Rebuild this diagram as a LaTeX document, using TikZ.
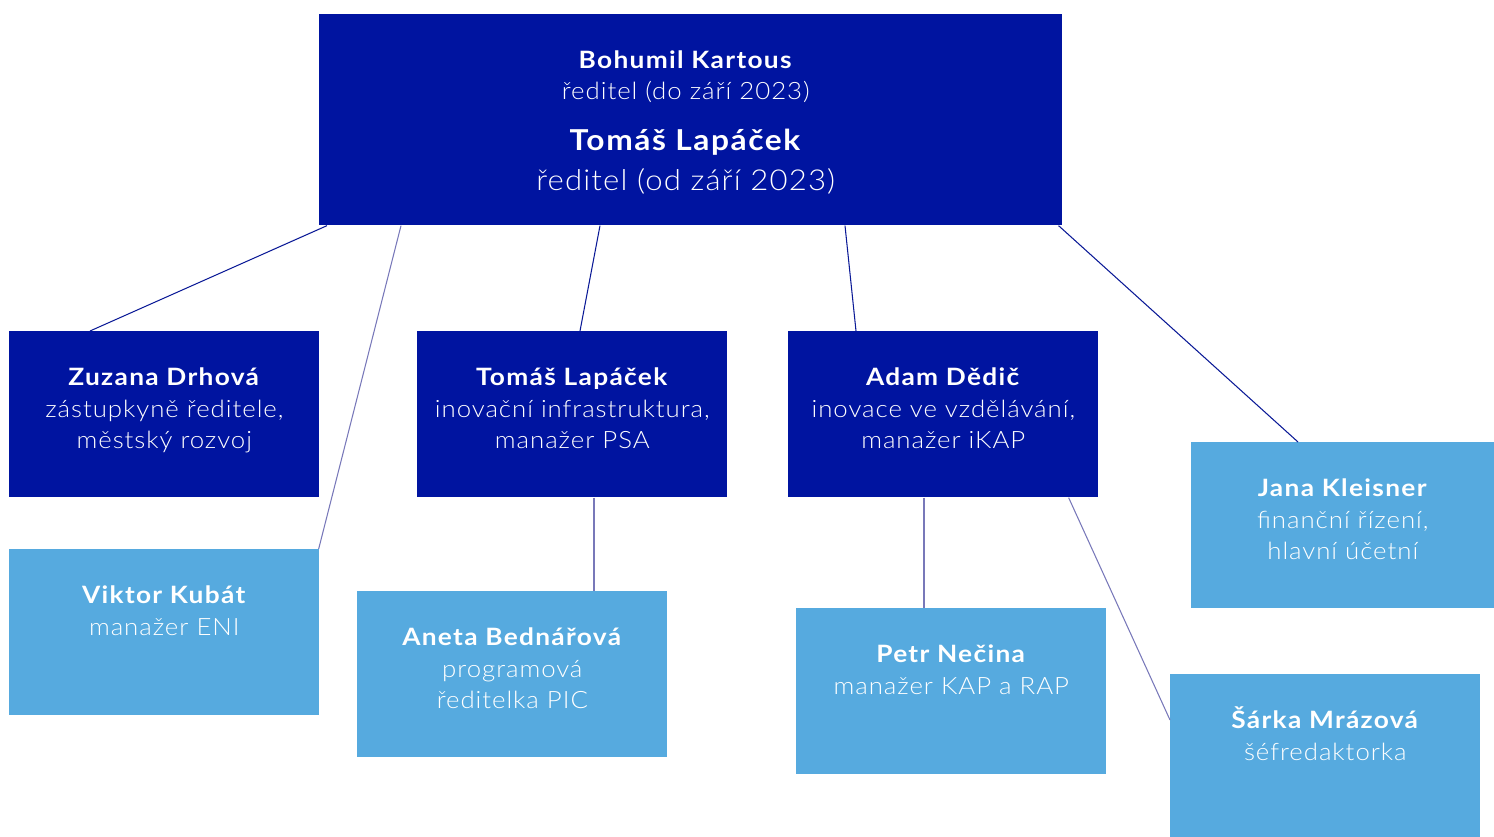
\documentclass[tikz,border=0pt]{standalone}
\usepackage{fontspec}
\setmainfont{Lato}[
	UprightFont={Lato Light}, BoldFont={Lato Bold},
	UprightFeatures={FakeStretch=1.08, LetterSpace=4},
	BoldFeatures={FakeStretch=1.1, LetterSpace=5.5}]
\usetikzlibrary{calc}
\definecolor{navy}{RGB}{0,20,160}
\definecolor{sky}{RGB}{86,170,223}
\definecolor{linkdark}{RGB}{10,25,150}
\definecolor{linklight}{RGB}{120,120,185}

% box text: width, height, name, lines
\newcommand{\card}[4]{\parbox[t][#2][t]{#1}{\centering\fontsize{13.6}{18.1}\selectfont
	\rule{0pt}{1.08cm}\textbf{#3}\\#4}}

\begin{document}
\begin{tikzpicture}[
	x=0.02cm, y=-0.02cm,
	card/.style={
		anchor=north west,
		inner sep=0pt,
		text=white
	},
	darkcard/.style={card, fill=navy},
	lightcard/.style={card, fill=sky},
	linkhead/.style={draw=linkdark, line width=0.6pt},
	linkstaff/.style={draw=linklight, line width=0.6pt}]

	\useasboundingbox (0,0) rectangle (1494,837);

	\node[darkcard] (top) at (319,14) {\parbox[t][4.22cm][t]{14.86cm}{\centering
		\rightskip=0.2cm plus 1fil
		\fontsize{13.6}{17.6}\selectfont
		\rule{0pt}{1.09cm}\textbf{Bohumil Kartous}\\
		ředitel (do září 2023)\\[11.3pt]
		{\fontsize{16.4}{17.6}\selectfont\textbf{Tomáš Lapáček}}\\[5.1pt]
		{\fontsize{16.4}{17.6}\selectfont ředitel (od září 2023)}}};

	\node[darkcard] (zuzana) at (9,331) {\card{6.2cm}{3.32cm}{Zuzana Drhová}{zástupkyně ředitele,\\městský rozvoj}};
	\node[darkcard] (psa) at (417,331) {\card{6.2cm}{3.32cm}{Tomáš Lapáček}{inovační infrastruktura,\\manažer PSA}};
	\node[darkcard] (adam) at (788,331) {\card{6.2cm}{3.32cm}{Adam Dědič}{inovace ve vzdělávání,\\manažer iKAP}};

	\node[lightcard] (jana) at (1191,442) {\card{6.06cm}{3.32cm}{Jana Kleisner}{finanční řízení,\\hlavní účetní}};
	\node[lightcard] (viktor) at (9,549) {\card{6.2cm}{3.32cm}{Viktor Kubát}{manažer ENI}};
	\node[lightcard] (aneta) at (357,591) {\card{6.2cm}{3.32cm}{Aneta Bednářová}{programová\\ředitelka PIC}};
	\node[lightcard] (petr) at (796,608) {\card{6.2cm}{3.32cm}{Petr Nečina}{manažer KAP a RAP}};
	\node[lightcard] (sarka) at (1170,674) {\card{6.2cm}{3.26cm}{Šárka Mrázová}{šéfredaktorka}};

	% links from the director
	\draw[linkhead] ($(top.south west)+(8,0)$) -- ($(zuzana.north west)+(81,0)$);
	\draw[linkstaff] ($(top.south west)+(82,0)$) -- ($(viktor.north east)+(-1,0)$);
	\draw[linkhead] ($(top.south west)+(281,0)$) -- ($(psa.north west)+(163,0)$);
	\draw[linkhead] ($(top.south west)+(526,0)$) -- ($(adam.north west)+(68,0)$);
	\draw[linkhead] ($(top.south east)+(-4,0)$) -- ($(jana.north west)+(107,0)$);

	% links below the deputies
	\draw[linkstaff] ($(psa.south west)+(177,0)$) -- ($(aneta.north west)+(237,0)$);
	\draw[linkstaff] ($(adam.south west)+(136,0)$) -- ($(petr.north west)+(128,0)$);
	\draw[linkstaff] ($(adam.south east)+(-30,0)$) -- ($(sarka.north west)+(0,46)$);
\end{tikzpicture}
\end{document}
